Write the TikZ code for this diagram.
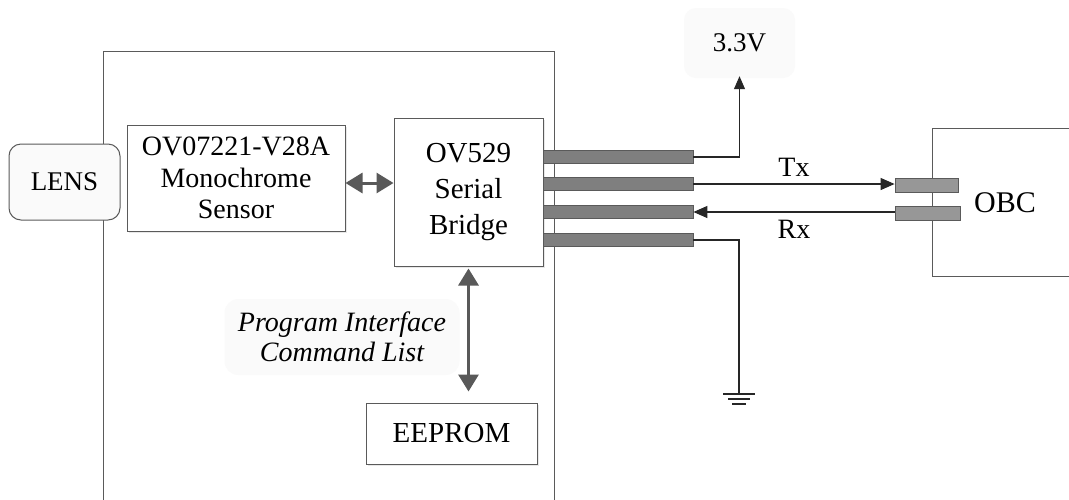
\documentclass[tikz,border=0pt]{standalone}
\usepackage{fontspec}
\setmainfont{Liberation Serif}
\usetikzlibrary{arrows.meta,shadows}
\definecolor{edgegray}{HTML}{5A5A5A}
\definecolor{pingray}{HTML}{7F7F7F}
\definecolor{pinlight}{HTML}{979797}
\definecolor{arrowgray}{HTML}{595959}
\definecolor{softfill}{HTML}{FAFAFA}
\tikzset{
  blk/.style={draw=edgegray, line width=1pt, fill=white, align=center, inner sep=0pt,
              drop shadow={opacity=0.18, shadow xshift=2pt, shadow yshift=-2pt}},
  txt/.style={font=\fontsize{28}{32}\selectfont},
  pin/.style={draw=edgegray, line width=0.8pt, fill=pingray, inner sep=0pt, minimum width=150pt, minimum height=13pt},
  opin/.style={draw=edgegray, line width=0.8pt, fill=pinlight, inner sep=0pt, minimum height=14pt},
  wire/.style={draw=black!85, line width=1.1pt},
  bus/.style={draw=arrowgray, line width=3pt, {Triangle[length=17pt,width=20pt]}-{Triangle[length=17pt,width=20pt]}},
  frame/.style={draw=edgegray, line width=1pt}
}
\begin{document}
\begin{tikzpicture}[x=1pt,y=-1pt]
\useasboundingbox[fill=white] (0,0) rectangle (1069,499);
% camera enclosure
\draw[frame] (103,500) -- (103,51) -- (554,51) -- (554,500);
% OBC enclosure
\node[frame, minimum width=143pt, minimum height=148pt, inner sep=0pt, anchor=north west] (obcbox) at (932,128) {};
\node[txt, font=\fontsize{30}{34}\selectfont] (obc) at (1005,203) {OBC};
% nodes
\node[draw=edgegray, line width=1pt, fill=softfill, rounded corners=12pt, minimum width=111pt, minimum height=76pt, inner sep=0pt, font=\fontsize{27}{31}\selectfont] (lens) at (64.5,182) {LENS};
\node[blk, minimum width=218pt, minimum height=106pt, font=\fontsize{28}{31.5}\selectfont] (sensor) at (236,178) {OV07221-V28A\\Monochrome\\Sensor};
\node[blk, minimum width=149pt, minimum height=148pt, font=\fontsize{29}{36}\selectfont] (bridge) at (468.5,192) {OV529\\Serial\\Bridge};
\node[blk, minimum width=171pt, minimum height=61pt, font=\fontsize{29}{32}\selectfont] (eeprom) at (451.5,433.5) {EEPROM};
\node[fill=softfill, rounded corners=12pt, minimum width=111pt, minimum height=70pt, inner sep=0pt, font=\fontsize{27}{31}\selectfont] (v33) at (739.5,43) {3.3V};
\node[fill=softfill, rounded corners=14pt, minimum width=235pt, minimum height=76pt, inner sep=0pt, align=center, font=\fontsize{28}{30}\itshape] (prog) at (342,337) {Program Interface\\Command List};
% pins on bridge
\node[pin] (p1) at (618,157) {};
\node[pin] (p2) at (618,184) {};
\node[pin] (p3) at (618,212) {};
\node[pin] (p4) at (618,240) {};
% pins on OBC
\node[opin, minimum width=63pt] (q1) at (926.5,185) {};
\node[opin, minimum width=65pt] (q2) at (927.5,213) {};
% buses
\draw[bus] (sensor.east |- 0,183) -- (bridge.west |- 0,183);
\draw[bus] ([yshift=-2pt]bridge.south) -- ([yshift=11pt]bridge.south |- eeprom.north);
% wires
\draw[wire, -{Triangle[length=13pt,width=11pt]}] (p1.east) -| ([yshift=2pt]v33.south);
\draw[wire, -{Triangle[length=14pt,width=12pt]}] (p2.east) -- (p2.east -| q1.west) node[midway, above=4pt, txt] (tx) {Tx};
\draw[wire, -{Triangle[length=14pt,width=12pt]}] (q2.west |- p3.east) -- (p3.east) node[midway, below=4pt, txt] (rx) {Rx};
\coordinate (gnd) at (739,394);
\draw[wire] (p4.east) -| (gnd);
\draw[wire] ([xshift=-16pt]gnd) -- ([xshift=16pt]gnd);
\draw[wire] ([xshift=-11pt,yshift=-5pt]gnd) -- ([xshift=11pt,yshift=-5pt]gnd);
\draw[wire] ([xshift=-7pt,yshift=-10pt]gnd) -- ([xshift=7pt,yshift=-10pt]gnd);
\end{tikzpicture}
\end{document}
